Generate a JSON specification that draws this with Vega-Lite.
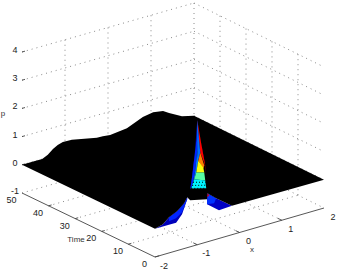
{"$schema":"https://vega.github.io/schema/vega-lite/v6.json","width":338,"height":272,"padding":0,"autosize":{"type":"none"},"background":"white","config":{"view":{"stroke":null}},
"data":{"values":[
{"k":"g","id":"a1","o":0,"x":-2,"t":50,"p":-1},{"k":"g","id":"a1","o":1,"x":2,"t":50,"p":-1},
{"k":"g","id":"a2","o":0,"x":-2,"t":50,"p":0},{"k":"g","id":"a2","o":1,"x":2,"t":50,"p":0},
{"k":"g","id":"a3","o":0,"x":-2,"t":50,"p":1},{"k":"g","id":"a3","o":1,"x":2,"t":50,"p":1},
{"k":"g","id":"a4","o":0,"x":-2,"t":50,"p":2},{"k":"g","id":"a4","o":1,"x":2,"t":50,"p":2},
{"k":"g","id":"a5","o":0,"x":-2,"t":50,"p":3},{"k":"g","id":"a5","o":1,"x":2,"t":50,"p":3},
{"k":"g","id":"a6","o":0,"x":-2,"t":50,"p":4},{"k":"g","id":"a6","o":1,"x":2,"t":50,"p":4},
{"k":"g","id":"b1","o":0,"x":2,"t":50,"p":-1},{"k":"g","id":"b1","o":1,"x":2,"t":0,"p":-1},
{"k":"g","id":"b2","o":0,"x":2,"t":50,"p":0},{"k":"g","id":"b2","o":1,"x":2,"t":0,"p":0},
{"k":"g","id":"b3","o":0,"x":2,"t":50,"p":1},{"k":"g","id":"b3","o":1,"x":2,"t":0,"p":1},
{"k":"g","id":"b4","o":0,"x":2,"t":50,"p":2},{"k":"g","id":"b4","o":1,"x":2,"t":0,"p":2},
{"k":"g","id":"b5","o":0,"x":2,"t":50,"p":3},{"k":"g","id":"b5","o":1,"x":2,"t":0,"p":3},
{"k":"g","id":"b6","o":0,"x":2,"t":50,"p":4},{"k":"g","id":"b6","o":1,"x":2,"t":0,"p":4},
{"k":"g","id":"c1","o":0,"x":-1,"t":50,"p":-1},{"k":"g","id":"c1","o":1,"x":-1,"t":50,"p":4},
{"k":"g","id":"c2","o":0,"x":0,"t":50,"p":-1},{"k":"g","id":"c2","o":1,"x":0,"t":50,"p":4},
{"k":"g","id":"c3","o":0,"x":1,"t":50,"p":-1},{"k":"g","id":"c3","o":1,"x":1,"t":50,"p":4},
{"k":"g","id":"c4","o":0,"x":2,"t":50,"p":-1},{"k":"g","id":"c4","o":1,"x":2,"t":50,"p":4},
{"k":"g","id":"d1","o":0,"x":2,"t":40,"p":-1},{"k":"g","id":"d1","o":1,"x":2,"t":40,"p":4},
{"k":"g","id":"d2","o":0,"x":2,"t":30,"p":-1},{"k":"g","id":"d2","o":1,"x":2,"t":30,"p":4},
{"k":"g","id":"d3","o":0,"x":2,"t":20,"p":-1},{"k":"g","id":"d3","o":1,"x":2,"t":20,"p":4},
{"k":"g","id":"d4","o":0,"x":2,"t":10,"p":-1},{"k":"g","id":"d4","o":1,"x":2,"t":10,"p":4},
{"k":"g","id":"e1","o":0,"x":-1,"t":50,"p":-1},{"k":"g","id":"e1","o":1,"x":-1,"t":0,"p":-1},
{"k":"g","id":"e2","o":0,"x":0,"t":50,"p":-1},{"k":"g","id":"e2","o":1,"x":0,"t":0,"p":-1},
{"k":"g","id":"e3","o":0,"x":1,"t":50,"p":-1},{"k":"g","id":"e3","o":1,"x":1,"t":0,"p":-1},
{"k":"g","id":"f1","o":0,"x":-2,"t":40,"p":-1},{"k":"g","id":"f1","o":1,"x":2,"t":40,"p":-1},
{"k":"g","id":"f2","o":0,"x":-2,"t":30,"p":-1},{"k":"g","id":"f2","o":1,"x":2,"t":30,"p":-1},
{"k":"g","id":"f3","o":0,"x":-2,"t":20,"p":-1},{"k":"g","id":"f3","o":1,"x":2,"t":20,"p":-1},
{"k":"g","id":"f4","o":0,"x":-2,"t":10,"p":-1},{"k":"g","id":"f4","o":1,"x":2,"t":10,"p":-1},

{"k":"a","id":"t","o":0,"x":-2,"t":50,"p":-1},{"k":"a","id":"t","o":1,"x":-2,"t":0,"p":-1},
{"k":"a","id":"u","o":0,"x":-2,"t":0,"p":-1},{"k":"a","id":"u","o":1,"x":2,"t":0,"p":-1},
{"k":"a","id":"t40","o":0,"x":-2,"t":40,"p":-1},{"k":"a","id":"t40","o":1,"x":-1.93,"t":40,"p":-1},
{"k":"a","id":"t30","o":0,"x":-2,"t":30,"p":-1},{"k":"a","id":"t30","o":1,"x":-1.93,"t":30,"p":-1},
{"k":"a","id":"t20","o":0,"x":-2,"t":20,"p":-1},{"k":"a","id":"t20","o":1,"x":-1.93,"t":20,"p":-1},
{"k":"a","id":"t10","o":0,"x":-2,"t":10,"p":-1},{"k":"a","id":"t10","o":1,"x":-1.93,"t":10,"p":-1},
{"k":"a","id":"t0","o":0,"x":-2,"t":0,"p":-1},{"k":"a","id":"t0","o":1,"x":-1.9,"t":0,"p":-1},
{"k":"a","id":"x1","o":0,"x":-1,"t":0,"p":-1},{"k":"a","id":"x1","o":1,"x":-1,"t":1.5,"p":-1},
{"k":"a","id":"x2","o":0,"x":0,"t":0,"p":-1},{"k":"a","id":"x2","o":1,"x":0,"t":1.5,"p":-1},
{"k":"a","id":"x3","o":0,"x":1,"t":0,"p":-1},{"k":"a","id":"x3","o":1,"x":1,"t":1.5,"p":-1},
{"k":"a","id":"p1","o":0,"x":-2,"t":50,"p":0},{"k":"a","id":"p1","o":1,"x":-1.93,"t":50,"p":0},
{"k":"a","id":"p2","o":0,"x":-2,"t":50,"p":1},{"k":"a","id":"p2","o":1,"x":-1.93,"t":50,"p":1},
{"k":"a","id":"p3","o":0,"x":-2,"t":50,"p":2},{"k":"a","id":"p3","o":1,"x":-1.93,"t":50,"p":2},
{"k":"a","id":"p4","o":0,"x":-2,"t":50,"p":3},{"k":"a","id":"p4","o":1,"x":-1.93,"t":50,"p":3},
{"k":"a","id":"p5","o":0,"x":-2,"t":50,"p":4},{"k":"a","id":"p5","o":1,"x":-1.93,"t":50,"p":4},

{"k":"f","id":"lb","c":0.06,"o":0,"x":-2,"t":0,"p":0},{"k":"f","id":"lb","c":0.06,"o":1,"x":-1.67,"t":0,"p":0},{"k":"f","id":"lb","c":0.06,"o":2,"x":-1.5,"t":0,"p":0},{"k":"f","id":"lb","c":0.06,"o":3,"x":-1.153,"t":3.3,"p":0},{"k":"f","id":"lb","c":0.06,"o":4,"x":-0.619,"t":9.9,"p":0},{"k":"f","id":"lb","c":0.06,"o":5,"x":-0.558,"t":10.88,"p":0},{"k":"f","id":"lb","c":0.06,"o":6,"x":-0.786,"t":8.38,"p":0},{"k":"f","id":"lb","c":0.06,"o":7,"x":-1.135,"t":5.47,"p":0},{"k":"f","id":"lb","c":0.06,"o":8,"x":-1.437,"t":3.68,"p":0},{"k":"f","id":"lb","c":0.06,"o":9,"x":-1.741,"t":1.11,"p":0},
{"k":"f","id":"lc","c":0.14,"o":0,"x":-1.437,"t":3.68,"p":0},{"k":"f","id":"lc","c":0.14,"o":1,"x":-1.135,"t":5.47,"p":0},{"k":"f","id":"lc","c":0.14,"o":2,"x":-0.786,"t":8.38,"p":0},{"k":"f","id":"lc","c":0.14,"o":3,"x":-0.558,"t":10.88,"p":0},{"k":"f","id":"lc","c":0.14,"o":4,"x":-0.619,"t":9.9,"p":0},{"k":"f","id":"lc","c":0.14,"o":5,"x":-1.092,"t":4.28,"p":0},{"k":"f","id":"lc","c":0.14,"o":6,"x":-1.365,"t":2.2,"p":0},{"k":"f","id":"lc","c":0.14,"o":7,"x":-1.56,"t":1.73,"p":0},
{"k":"f","id":"ra","c":0.07,"o":0,"x":-0.139,"t":10,"p":0},{"k":"f","id":"ra","c":0.07,"o":1,"x":-0.477,"t":4.64,"p":0},{"k":"f","id":"ra","c":0.07,"o":2,"x":-0.484,"t":0.02,"p":0},{"k":"f","id":"ra","c":0.07,"o":3,"x":-0.154,"t":0.4,"p":0},{"k":"f","id":"ra","c":0.07,"o":4,"x":-0.16,"t":6.3,"p":0},
{"k":"f","id":"rb","c":0.15,"o":0,"x":-0.139,"t":10,"p":0},{"k":"f","id":"rb","c":0.15,"o":1,"x":-0.477,"t":4.64,"p":0},{"k":"f","id":"rb","c":0.15,"o":2,"x":-0.343,"t":4.14,"p":0},{"k":"f","id":"rb","c":0.15,"o":3,"x":-0.16,"t":6.3,"p":0},
{"k":"f","id":"rc","c":0.9,"o":0,"x":-0.139,"t":10,"p":0},{"k":"f","id":"rc","c":0.9,"o":1,"x":-0.262,"t":8.05,"p":0},{"k":"f","id":"rc","c":0.9,"o":2,"x":-0.171,"t":8.75,"p":0},

{"k":"s","o":0,"x":-2,"t":50,"p":0},{"k":"s","o":1,"x":-1.74,"t":50,"p":0},{"k":"s","o":2,"x":-1.53,"t":50,"p":0},{"k":"s","o":2.5,"x":-1.4,"t":50,"p":0.1},{"k":"s","o":3,"x":-1.28,"t":50,"p":0.25},{"k":"s","o":3.5,"x":-1.17,"t":50,"p":0.34},{"k":"s","o":4,"x":-1.05,"t":50,"p":0.4},{"k":"s","o":5,"x":-0.84,"t":50,"p":0.38},{"k":"s","o":6,"x":-0.26,"t":50,"p":0.2},{"k":"s","o":7,"x":-0.12,"t":50,"p":0.2},{"k":"s","o":8,"x":0.05,"t":50,"p":0.17},{"k":"s","o":9,"x":0.44,"t":50,"p":0.24},{"k":"s","o":10,"x":0.81,"t":50,"p":0.47},{"k":"s","o":11,"x":1.05,"t":50,"p":0.54},{"k":"s","o":12,"x":1.28,"t":50,"p":0.48},{"k":"s","o":13,"x":1.42,"t":50,"p":0.35},{"k":"s","o":14,"x":1.72,"t":50,"p":0.11},{"k":"s","o":15,"x":2,"t":50,"p":0},
{"k":"s","o":16,"x":2,"t":0,"p":0},{"k":"s","o":17,"x":-0.154,"t":0.4,"p":0},{"k":"s","o":18,"x":-0.16,"t":6.3,"p":0},{"k":"s","o":19,"x":-0.139,"t":10,"p":0},{"k":"s","o":20,"x":-0.324,"t":7.08,"p":0},{"k":"s","o":21,"x":-0.605,"t":9,"p":0},{"k":"s","o":22,"x":-0.558,"t":10.88,"p":0},{"k":"s","o":23,"x":-0.786,"t":8.38,"p":0},{"k":"s","o":24,"x":-1.135,"t":5.47,"p":0},{"k":"s","o":25,"x":-1.437,"t":3.68,"p":0},{"k":"s","o":26,"x":-1.741,"t":1.11,"p":0},{"k":"s","o":27,"x":-2,"t":0,"p":0},

{"k":"h","id":"1","c":0.05,"o":0,"x":-1,"t":0,"p":3.42},{"k":"h","id":"1","c":0.05,"o":1,"x":-1.024,"t":0,"p":2.7},{"k":"h","id":"1","c":0.05,"o":2,"x":-1.118,"t":0,"p":1.51},{"k":"h","id":"1","c":0.05,"o":3,"x":-1.166,"t":0,"p":1.03},{"k":"h","id":"1","c":0.05,"o":4,"x":-1.1,"t":0,"p":1.4},
{"k":"h","id":"2","c":0.14,"o":0,"x":-1,"t":0,"p":3.42},{"k":"h","id":"2","c":0.14,"o":1,"x":-0.976,"t":0,"p":2.85},{"k":"h","id":"2","c":0.14,"o":2,"x":-1,"t":0,"p":2.34},{"k":"h","id":"2","c":0.14,"o":3,"x":-1.047,"t":0,"p":1.65},{"k":"h","id":"2","c":0.14,"o":4,"x":-1.118,"t":0,"p":1.155},{"k":"h","id":"2","c":0.14,"o":5,"x":-1.166,"t":0,"p":1.03},{"k":"h","id":"2","c":0.14,"o":6,"x":-1.118,"t":0,"p":1.51},{"k":"h","id":"2","c":0.14,"o":7,"x":-1.024,"t":0,"p":2.7},
{"k":"h","id":"3","c":0.25,"o":0,"x":-1,"t":0,"p":2.34},{"k":"h","id":"3","c":0.25,"o":1,"x":-0.976,"t":0,"p":1.97},{"k":"h","id":"3","c":0.25,"o":2,"x":-1.024,"t":0,"p":1.57},{"k":"h","id":"3","c":0.25,"o":3,"x":-1.118,"t":0,"p":1.12},{"k":"h","id":"3","c":0.25,"o":4,"x":-1.047,"t":0,"p":1.65},
{"k":"h","id":"4","c":1,"o":0,"x":-1,"t":0,"p":3.42},{"k":"h","id":"4","c":1,"o":1,"x":-0.787,"t":0,"p":1.36},{"k":"h","id":"4","c":1,"o":2,"x":-0.811,"t":0,"p":1.73},{"k":"h","id":"4","c":1,"o":3,"x":-0.905,"t":0,"p":2.54},
{"k":"h","id":"5","c":0.88,"o":0,"x":-1,"t":0,"p":3.42},{"k":"h","id":"5","c":0.88,"o":1,"x":-0.905,"t":0,"p":2.54},{"k":"h","id":"5","c":0.88,"o":2,"x":-0.811,"t":0,"p":1.73},{"k":"h","id":"5","c":0.88,"o":3,"x":-0.929,"t":0,"p":2.24},
{"k":"h","id":"5b","c":0.22,"o":0,"x":-1,"t":0,"p":3.42},{"k":"h","id":"5b","c":0.22,"o":1,"x":-0.929,"t":0,"p":2.24},{"k":"h","id":"5b","c":0.22,"o":2,"x":-0.976,"t":0,"p":1.97},{"k":"h","id":"5b","c":0.22,"o":3,"x":-1,"t":0,"p":2.34},
{"k":"h","id":"6","c":0.75,"o":0,"x":-0.929,"t":0,"p":2.24},{"k":"h","id":"6","c":0.75,"o":1,"x":-0.834,"t":0,"p":1.74},{"k":"h","id":"6","c":0.75,"o":2,"x":-0.858,"t":0,"p":1.64},{"k":"h","id":"6","c":0.75,"o":3,"x":-0.976,"t":0,"p":1.97},
{"k":"h","id":"7","c":0.62,"o":0,"x":-0.976,"t":0,"p":1.97},{"k":"h","id":"7","c":0.62,"o":1,"x":-0.858,"t":0,"p":1.68},{"k":"h","id":"7","c":0.62,"o":2,"x":-0.834,"t":0,"p":1.49},{"k":"h","id":"7","c":0.62,"o":3,"x":-1.024,"t":0,"p":1.57},
{"k":"h","id":"8","c":0.47,"o":0,"x":-1.024,"t":0,"p":1.57},{"k":"h","id":"8","c":0.47,"o":1,"x":-0.834,"t":0,"p":1.49},{"k":"h","id":"8","c":0.47,"o":2,"x":-0.811,"t":0,"p":1.2},{"k":"h","id":"8","c":0.47,"o":3,"x":-1.071,"t":0,"p":1.35},
{"k":"h","id":"9","c":0.36,"o":0,"x":-1.071,"t":0,"p":1.35},{"k":"h","id":"9","c":0.36,"o":1,"x":-0.811,"t":0,"p":1.2},{"k":"h","id":"9","c":0.36,"o":2,"x":-0.787,"t":0,"p":0.91},{"k":"h","id":"9","c":0.36,"o":3,"x":-1.142,"t":0,"p":1.06},

{"k":"m","id":"m1","o":0,"x":-1.142,"t":0,"p":1.06},{"k":"m","id":"m1","o":1,"x":-0.787,"t":0,"p":0.91},
{"k":"m","id":"m2","o":0,"x":-1.12,"t":0,"p":1.155},{"k":"m","id":"m2","o":1,"x":-0.79,"t":0,"p":1.02},
{"k":"m","id":"m3","o":0,"x":-1.1,"t":0,"p":1.26},{"k":"m","id":"m3","o":1,"x":-0.8,"t":0,"p":1.13},

{"k":"lp","l":"-1","x":-2,"t":50,"p":-1},{"k":"lp","l":"0","x":-2,"t":50,"p":0},{"k":"lp","l":"1","x":-2,"t":50,"p":1},{"k":"lp","l":"2","x":-2,"t":50,"p":2},{"k":"lp","l":"3","x":-2,"t":50,"p":3},{"k":"lp","l":"4","x":-2,"t":50,"p":4},
{"k":"lt","l":"50","x":-2,"t":50,"p":-1},{"k":"lt","l":"40","x":-2,"t":40,"p":-1},{"k":"lt","l":"30","x":-2,"t":30,"p":-1},{"k":"lt","l":"20","x":-2,"t":20,"p":-1},{"k":"lt","l":"10","x":-2,"t":10,"p":-1},{"k":"lt","l":"0","x":-2,"t":0,"p":-1},
{"k":"lx","l":"-2","x":-2,"t":0,"p":-1},{"k":"lx","l":"-1","x":-1,"t":0,"p":-1},{"k":"lx","l":"0","x":0,"t":0,"p":-1},{"k":"lx","l":"1","x":1,"t":0,"p":-1},{"k":"lx","l":"2","x":2,"t":0,"p":-1},
{"k":"tp","l":"p","x":-2,"t":50,"p":1.8},{"k":"tt","l":"Time","x":-2,"t":25,"p":-1},{"k":"tx","l":"x","x":0,"t":0,"p":-1}
]},
"transform":[
{"calculate":"22+43*(datum.x+2)+2.66*(50-datum.t)-0.015*(datum.x+2)*(50-datum.t)","as":"sx"},
{"calculate":"193-12.25*(datum.x+2)+1.28*(50-datum.t)-28.2*(datum.p+1)","as":"sy"}
],
"encoding":{
"x":{"field":"sx","type":"quantitative","scale":{"domain":[0,338],"range":[0,338]},"axis":null},
"y":{"field":"sy","type":"quantitative","scale":{"domain":[0,272],"range":[0,272]},"axis":null}
},
"layer":[
{"transform":[{"filter":"datum.k==='g'"}],"mark":{"type":"line","stroke":"#8a8a8a","strokeWidth":1,"strokeDash":[1,4]},"encoding":{"detail":{"field":"id"},"order":{"field":"o"}}},
{"transform":[{"filter":"datum.k==='a'"}],"mark":{"type":"line","stroke":"#444444","strokeWidth":0.9},"encoding":{"detail":{"field":"id"},"order":{"field":"o"}}},
{"transform":[{"filter":"datum.k==='f'"}],"mark":{"type":"line","filled":true},"encoding":{"detail":{"field":"id"},"order":{"field":"o"},"color":{"field":"c","type":"quantitative","legend":null,"scale":{"domain":[0,0.125,0.25,0.375,0.5,0.625,0.75,0.875,1],"range":["#00007f","#0000ff","#007fff","#00ffff","#7fff7f","#ffff00","#ff7f00","#ff0000","#7f0000"]}}}},
{"transform":[{"filter":"datum.k==='s'"}],"mark":{"type":"line","filled":true,"fill":"#000000"},"encoding":{"order":{"field":"o"}}},
{"transform":[{"filter":"datum.k==='h'"}],"mark":{"type":"line","filled":true},"encoding":{"detail":{"field":"id"},"order":{"field":"o"},"color":{"field":"c","type":"quantitative","legend":null,"scale":{"domain":[0,0.125,0.25,0.375,0.5,0.625,0.75,0.875,1],"range":["#00007f","#0000ff","#007fff","#00ffff","#7fff7f","#ffff00","#ff7f00","#ff0000","#7f0000"]}}}},
{"transform":[{"filter":"datum.k==='m'"}],"mark":{"type":"line","stroke":"#000000","strokeWidth":1,"strokeDash":[1,2]},"encoding":{"detail":{"field":"id"},"order":{"field":"o"}}},
{"transform":[{"filter":"datum.k==='lp'"}],"mark":{"type":"text","font":"Liberation Sans","fontSize":9,"fill":"#222222","dx":-7,"dy":-2,"align":"center","baseline":"middle"},"encoding":{"text":{"field":"l"}}},
{"transform":[{"filter":"datum.k==='lt'"}],"mark":{"type":"text","font":"Liberation Sans","fontSize":9,"fill":"#222222","dx":-10.5,"dy":7,"align":"center","baseline":"middle"},"encoding":{"text":{"field":"l"}}},
{"transform":[{"filter":"datum.k==='lx'"}],"mark":{"type":"text","font":"Liberation Sans","fontSize":9,"fill":"#222222","dx":9,"dy":8.5,"align":"center","baseline":"middle"},"encoding":{"text":{"field":"l"}}},
{"transform":[{"filter":"datum.k==='tp'"}],"mark":{"type":"text","font":"Liberation Sans","fontSize":8,"fill":"#333333","dx":-19,"align":"center","baseline":"middle"},"encoding":{"text":{"field":"l"}}},
{"transform":[{"filter":"datum.k==='tt'"}],"mark":{"type":"text","font":"Liberation Sans","fontSize":8,"fill":"#333333","dx":-12.5,"dy":15,"align":"center","baseline":"middle"},"encoding":{"text":{"field":"l"}}},
{"transform":[{"filter":"datum.k==='tx'"}],"mark":{"type":"text","font":"Liberation Sans","fontSize":8,"fill":"#333333","dx":12.5,"dy":17.5,"align":"center","baseline":"middle"},"encoding":{"text":{"field":"l"}}}
]}
